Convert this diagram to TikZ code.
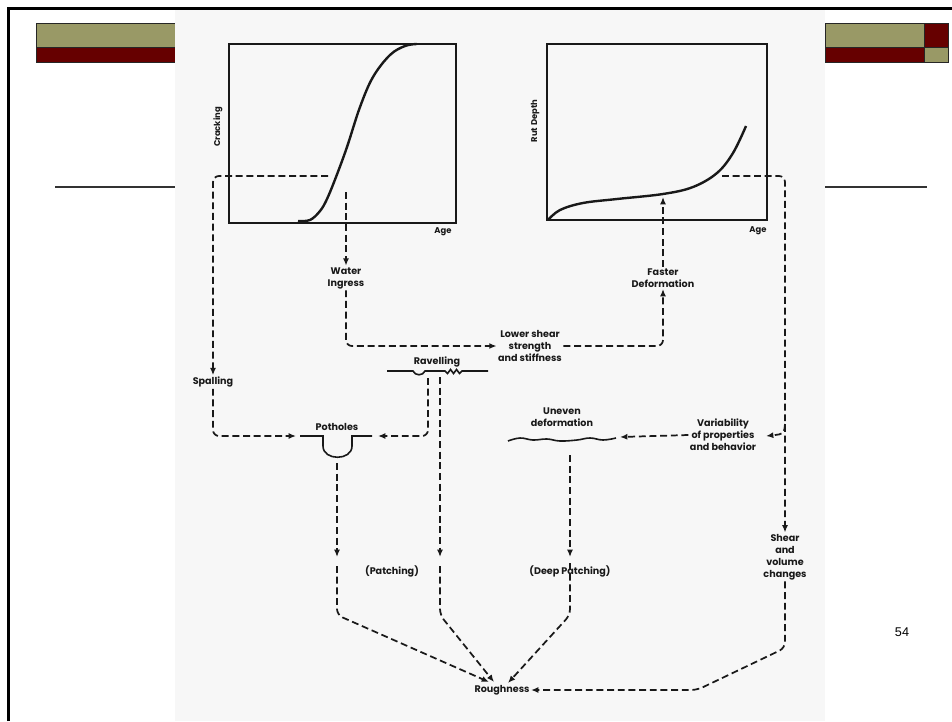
\documentclass[tikz,border=0pt]{standalone}
\usepackage{fontspec}
\setmainfont{Liberation Sans}
\newfontfamily\geo{Poppins}
\usetikzlibrary{arrows.meta}
\definecolor{barolive}{HTML}{999966}
\definecolor{barred}{HTML}{660000}
\definecolor{scanbg}{HTML}{F7F7F7}
\begin{document}
\begin{tikzpicture}[x=0.75pt,y=-0.75pt,
  dl/.style={line width=1.3pt, dash pattern=on 5.2pt off 2.8pt, black!90},
  arr/.style={-{Latex[length=5.5pt,width=4.5pt]}},
  rc/.style={rounded corners=4.5pt},
  lbl/.style={font=\geo\bfseries\fontsize{7.2}{9}\selectfont, align=center, inner sep=1pt, text=black!90},
  axl/.style={font=\geo\bfseries\fontsize{6.3}{7}\selectfont, inner sep=0pt, text=black!90},
  plotframe/.style={draw=black!90, line width=1.2pt, inner sep=0pt},
  curve/.style={line width=1.8pt, black!90},
  sym/.style={line width=1.2pt, black!90},
  barline/.style={draw=black!85, line width=0.5pt}]
\useasboundingbox (0,0) rectangle (952,721);
\fill[white] (0,0) rectangle (952,721);
% slide decoration bars
\filldraw[barline, fill=barolive] (36,23) rectangle (175,47);
\filldraw[barline, fill=barred] (36,47) rectangle (175,62);
\filldraw[barline, fill=barolive] (825,23) rectangle (924,47);
\filldraw[barline, fill=barred] (924,23) rectangle (948,47);
\filldraw[barline, fill=barred] (825,47) rectangle (924,62);
\filldraw[barline, fill=barolive] (924,47) rectangle (948,62);
\draw[line width=0.9pt, black!80] (55,187) -- (175,187);
\draw[line width=0.9pt, black!80] (825,187) -- (927,187);
\node[font=\fontsize{9.5}{11}\selectfont] (pg) at (902,632) {54};
% scanned figure background
\fill[scanbg] (175,9) rectangle (825,721);
% slide frame
\draw[line width=2pt] (8.7,721) -- (8.7,8.7) -- (952,8.7);

% plots
\node[plotframe, minimum width=170.25pt, minimum height=134.25pt] (crackbox) at (342.5,133.5) {};
\node[plotframe, minimum width=165pt, minimum height=132pt] (rutbox) at (657,132) {};
\draw[curve] plot[smooth, tension=0.6] coordinates {(298,221) (310,220) (320,211) (327,199) (336,177) (347,147) (360,107) (373,77) (390,55) (405,46) (417,44)};
\draw[curve] plot[smooth, tension=0.6] coordinates {(548,220) (560,210) (583,203) (617,199) (663,194) (693,187) (717,173) (733,153) (746,126)};
\node[axl, rotate=90] (crk) at (218,127) {Cracking};
\node[axl] (age1) at (443,232) {Age};
\node[axl, rotate=90] (rut) at (535,121) {Rut Depth};
\node[axl] (age2) at (758,231) {Age};

% labels
\node[lbl] (water) at (346,278) {Water\\Ingress};
\node[lbl] (lower) at (530,346) {Lower shear\\strength\\and stiffness};
\node[lbl] (faster) at (663,278) {Faster\\Deformation};
\node[lbl] (spal) at (213,382) {Spalling};
\node[lbl] (pot) at (337,427) {Potholes};
\node[lbl] (rav) at (437,362) {Ravelling};
\node[lbl] (uneven) at (562,417) {Uneven\\deformation};
\node[lbl] (var) at (723,435) {Variability\\of properties\\and behavior};
\node[lbl] (shear) at (785,557) {Shear\\and\\volume\\changes};
\node[lbl] (patch) at (392,571) {(Patching)};
\node[lbl] (deep) at (570,571) {(Deep Patching)};
\node[lbl] (rough) at (502,690) {Roughness};

% symbols
\draw[sym] (300,436) -- (323,436) -- (323,446) .. controls (323,461) and (352,461) .. (352,446) -- (352,436) -- (372,436);
\draw[sym] (387,371) -- (413,371) .. controls (415,376) and (423,376) .. (425,371) -- (445,371)
  -- (447.5,373.5) -- (450.5,369.5) -- (453.5,373.5) -- (456.5,369.5) -- (459.5,373.5) -- (462,371) -- (488,371);
\draw[sym] plot[smooth, tension=0.7] coordinates {(508,441) (520,438) (533,440) (547,439) (560,441) (577,440) (590,438) (603,440) (616,438)};

% named coordinates
\coordinate (c1) at (328,176);
\coordinate (wi0) at (346,192);
\coordinate (potin) at (296,436);
\coordinate (potinr) at (378,436);
\coordinate (rutpt) at (663,197);
\coordinate (rs0) at (722,176);
\coordinate (vb) at (785,424);
\coordinate (varin) at (766,436);
\coordinate (unin) at (620,437);
\coordinate (rv1) at (428,378);
\coordinate (rv2) at (440,377);
\coordinate (rv2a) at (440,557);
\coordinate (rv2b) at (440,566);
\coordinate (rv2c) at (440,615);
\coordinate (pb0) at (337,463);
\coordinate (pba) at (337,557);
\coordinate (pbb) at (337,566);
\coordinate (pbc) at (337,615);
\coordinate (ud0) at (570,455);
\coordinate (uda) at (570,557);
\coordinate (udb) at (570,563);
\coordinate (udc) at (570,615);
\coordinate (sh1) at (785,648);
\coordinate (sh2) at (697,690);
\coordinate (r1) at (489,682);
\coordinate (r2) at (494,682);
\coordinate (r3) at (508,683);

% connectors
\draw[dl, arr, rc] (c1) -| (spal.north);
\draw[dl, arr, rc] (spal.south) |- (potin);
\draw[dl, arr] (wi0) -- (water.north);
\draw[dl, arr, rc] (water.south) |- (lower.west);
\draw[dl, arr, rc] (lower.east) -| (faster.south);
\draw[dl, arr] (faster.north) -- (rutpt);
\draw[dl, arr, rc] (rs0) -| (shear.north);
\draw[dl, arr] (vb) .. controls (784,434) .. (varin);
\draw[dl, arr] (var.west) -- (unin);
\draw[dl, arr, rc] (rv1) |- (potinr);
\draw[dl, arr] (rv2) -- (rv2a);
\draw[dl, arr, rc] (rv2b) -- (rv2c) -- (r2);
\draw[dl, arr] (pb0) -- (pba);
\draw[dl, arr, rc] (pbb) -- (pbc) -- (r1);
\draw[dl, arr] (ud0) -- (uda);
\draw[dl, arr, rc] (udb) -- (udc) -- (r3);
\draw[dl, arr, rc] (shear.south) -- (sh1) -- (sh2) -- (rough.east);
\end{tikzpicture}
\end{document}
